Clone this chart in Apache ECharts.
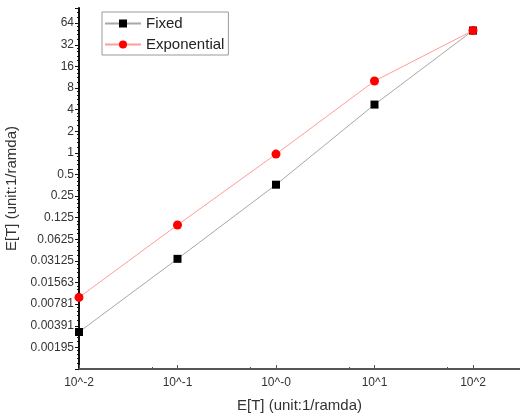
<!DOCTYPE html>
<html>
<head>
<meta charset="utf-8">
<script src="https://cdn.jsdelivr.net/npm/echarts@6/dist/echarts.min.js"></script>
<style>
html,body{margin:0;padding:0;background:#fff;}
#chart{width:520px;height:416px;}
</style>
</head>
<body>
<div id="chart"></div>
<script>
// ---- data ----
var xValues = [0.01, 0.1, 1, 10, 100];
var xTickLabels = ['10^-2', '10^-1', '10^-0', '10^1', '10^2'];
var fixedValues = [0.0032, 0.0334, 0.36, 4.7, 50.5];
var exponentialValues = [0.0097, 0.099, 0.96, 10, 50.5];
var yTickExponents = [-9, -8, -7, -6, -5, -4, -3, -2, -1, 0, 1, 2, 3, 4, 5, 6];
var yTickLabels = ['0.00195', '0.00391', '0.00781', '0.01563', '0.03125', '0.0625', '0.125', '0.25', '0.5', '1', '2', '4', '8', '16', '32', '64'];
var seriesNames = ['Fixed', 'Exponential'];
var axisName = 'E[T] (unit:1/ramda)';

function pairs(xs, ys) { return xs.map(function (x, i) { return [x, ys[i]]; }); }

var FONT = "'Liberation Sans', Arial, sans-serif";
var chart = echarts.init(document.getElementById('chart'), null, {renderer: 'canvas'});

chart.setOption({
  backgroundColor: '#fff',
  animation: false,
  textStyle: {fontFamily: FONT},
  grid: {left: 79, right: 0, top: 8, bottom: 47, containLabel: false, outerBoundsMode: 'none'},
  legend: {
    orient: 'vertical',
    left: 102, top: 12,
    padding: [4, 4, 3, 2],
    borderColor: '#9a9a9a', borderWidth: 1,
    itemWidth: 36, itemHeight: 10, itemGap: 6,
    textStyle: {fontSize: 15, color: '#222', fontFamily: FONT},
    data: seriesNames
  },
  xAxis: {
    type: 'log', logBase: 10,
    min: 0.01, max: 300, interval: 1,
    name: axisName, nameLocation: 'middle', nameGap: 29,
    nameTextStyle: {fontSize: 15, color: '#333', fontFamily: FONT},
    axisLine: {lineStyle: {color: '#555', width: 2}},
    axisTick: {inside: true, length: 4, lineStyle: {color: '#555', width: 1}},
    minorTick: {show: true, splitNumber: 2, length: 2, lineStyle: {color: '#555'}},
    splitLine: {show: false},
    axisLabel: {
      fontSize: 12, color: '#333', margin: 8,
      formatter: function (v) {
        var i = xValues.findIndex(function (x) { return Math.abs(Math.log10(x) - Math.log10(v)) < 1e-6; });
        return i >= 0 ? xTickLabels[i] : '';
      }
    }
  },
  yAxis: {
    type: 'log', logBase: 2,
    min: Math.pow(2, -10), max: 104, interval: 1,
    name: axisName, nameLocation: 'middle', nameGap: 57,
    nameTextStyle: {fontSize: 15, color: '#333', fontFamily: FONT},
    axisLine: {lineStyle: {color: '#111', width: 2}},
    axisTick: {length: 4, lineStyle: {color: '#111', width: 1}},
    minorTick: {show: true, splitNumber: 5, length: 2, lineStyle: {color: '#111'}},
    splitLine: {show: false},
    axisLabel: {
      fontSize: 12, color: '#333', margin: 5,
      formatter: function (v) {
        var e = Math.log2(v);
        var r = Math.round(e);
        if (Math.abs(e - r) > 1e-6) return '';
        var i = yTickExponents.indexOf(r);
        return i >= 0 ? yTickLabels[i] : '';
      }
    }
  },
  series: [
    {
      name: seriesNames[0], type: 'line',
      data: pairs(xValues, fixedValues),
      symbol: 'rect', symbolSize: 8,
      itemStyle: {color: '#000'},
      lineStyle: {color: '#a8a8a8', width: 1},
      z: 2
    },
    {
      name: seriesNames[1], type: 'line',
      data: pairs(xValues, exponentialValues),
      symbol: 'circle', symbolSize: 9,
      itemStyle: {color: '#ff0000'},
      lineStyle: {color: '#ff9c9c', width: 1},
      z: 3
    }
  ]
});
</script>
</body>
</html>
